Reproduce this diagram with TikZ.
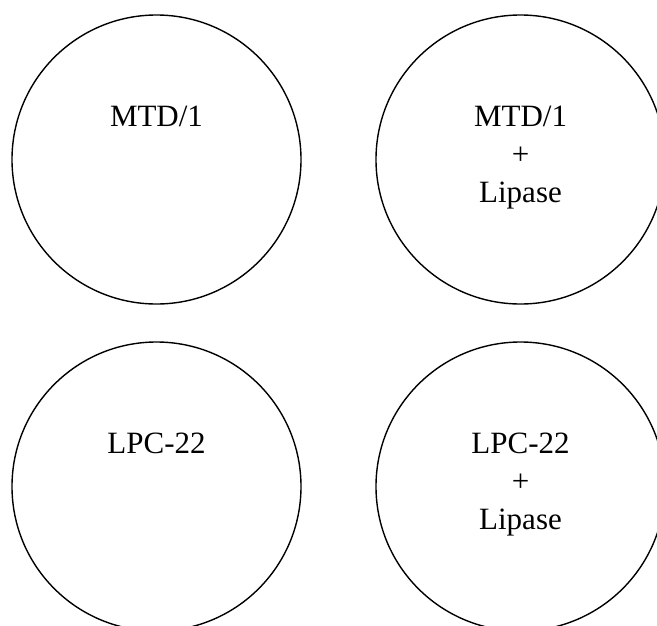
\documentclass[tikz,border=0pt]{standalone}
\usepackage{fontspec}
\setmainfont{Liberation Serif}
\begin{document}
\begin{tikzpicture}[x=1pt,y=-1pt,
  dish/.style={circle,draw,line width=1.4pt,minimum size=289pt,inner sep=0pt},
  lbl/.style={font=\fontsize{31}{38}\selectfont,align=center,anchor=base,inner sep=0pt}]
\useasboundingbox (0,0) rectangle (657,625);
\clip (0,0) rectangle (657,625);
\node[dish] (a) at (156.5,159.5) {};
\node[dish] (b) at (520.5,159.5) {};
\node[dish] (c) at (156.5,486.5) {};
\node[dish] (d) at (520.5,486.5) {};
\node[lbl] (ta) at ([yshift=33.5pt]a.center) {MTD/1};
\node[lbl] (tb) at ([yshift=-42.5pt]b.center) {MTD/1\\+\\Lipase};
\node[lbl] (tc) at ([yshift=33.5pt]c.center) {LPC-22};
\node[lbl] (td) at ([yshift=-42.5pt]d.center) {LPC-22\\+\\Lipase};
\end{tikzpicture}
\end{document}
